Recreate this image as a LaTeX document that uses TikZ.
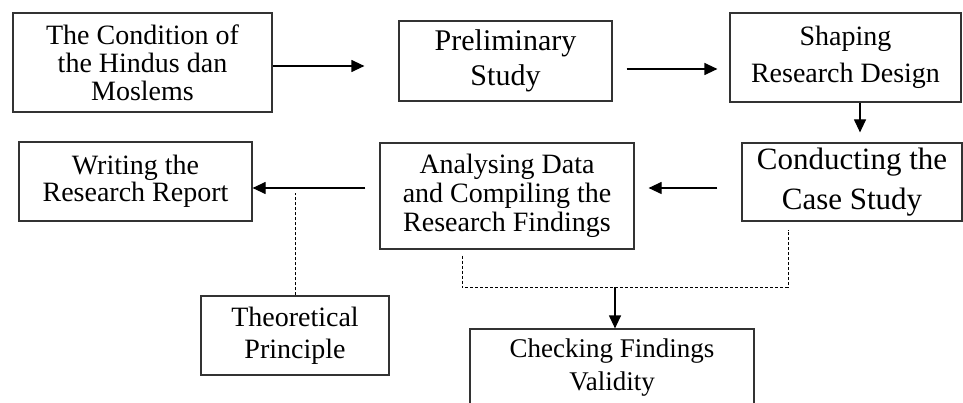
\documentclass[tikz,border=0pt]{standalone}
\usepackage{fontspec}
\setmainfont{Liberation Serif}
\usetikzlibrary{arrows.meta}
\def\fs#1#2{\fontsize{#1}{#2}\selectfont}

\begin{document}
\begin{tikzpicture}[x=1pt, y=-1pt,
		box/.style={draw=black!80, line width=1.2pt, rectangle, align=center, inner sep=0pt},
		arr/.style={line width=1.2pt, -{Triangle[length=13pt,width=12pt]}},
		dsh/.style={line width=0.9pt, dash pattern=on 3pt off 2pt}]
			%%%%% START %%%%%
			\useasboundingbox (0,0) rectangle (963,403);
			
			\node[box, minimum width=259pt, minimum height=99pt, font=\fs{28}{28}] (cond) at (142.5, 62.5) {The Condition of\\the Hindus dan\\Moslems};
			\node[box, minimum width=213pt, minimum height=80pt, font=\fs{30}{35}] (prelim) at (505.5, 61) {Preliminary\\Study};
			\node[box, minimum width=231pt, minimum height=89pt, font=\fs{28}{37}] (shape) at (845.5, 57.5) {Shaping\\Research Design};
			
			\node[box, minimum width=220pt, minimum height=78pt, font=\fs{31}{40}] (conduct) at (852, 182) {Conducting the\\Case Study};
			\node[box, minimum width=254pt, minimum height=106pt, font=\fs{28}{29}] (analyse) at (507, 196) {Analysing Data\\and Compiling the\\Research Findings};
			\node[box, minimum width=233pt, minimum height=79pt, font=\fs{28}{27}] (report) at (135.5, 181.5) {Writing the\\Research Report};
			
			\node[box, minimum width=188pt, minimum height=79pt, font=\fs{28}{32}] (theory) at (295, 335.5) {Theoretical\\Principle};
			\node[box, minimum width=284pt, minimum height=78pt, font=\fs{27}{33}] (check) at (612, 368) {Checking Findings\\Validity};
			
			% top row
			\coordinate (t1) at ([xshift=-34pt,yshift=-5pt]prelim.west);
			\draw[arr] (cond.east |- t1) -- (t1);
			\coordinate (s2) at ([xshift=14pt,yshift=-8pt]prelim.east);
			\draw[arr] (s2) -- ([xshift=-12pt]shape.west |- s2);
			\draw[arr] ([xshift=14.5pt]shape.south) -- ([xshift=8pt,yshift=10pt]conduct.north);
			
			% middle row
			\draw[arr] ([xshift=-24pt,yshift=-6pt]conduct.west) -- ([xshift=14pt,yshift=8pt]analyse.east);
			\coordinate (s4) at ([xshift=-14pt,yshift=8pt]analyse.west);
			\draw[arr] (s4) -- (report.east |- s4);
			\draw[dsh] (theory.north) -- ([yshift=-5pt]theory.north |- s4);
			
			% checking
			\coordinate (jn) at ([xshift=3pt,yshift=41pt]check.north);
			\draw[dsh] ([xshift=-45pt,yshift=-6pt]analyse.south) |- (jn) -| ([xshift=-64pt,yshift=-8pt]conduct.south);
			\draw[arr] (jn) -- (check.north -| jn);
			
			%%%%% END %%%%%
\end{tikzpicture}
\end{document}
